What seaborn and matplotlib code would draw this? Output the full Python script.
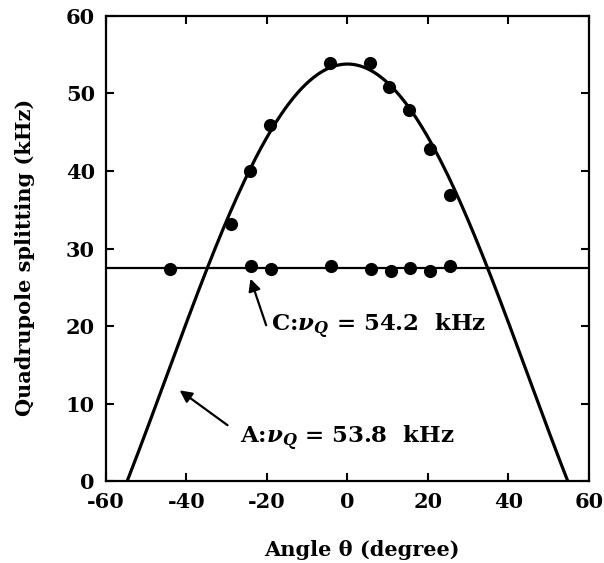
import numpy as np
import pandas as pd
import matplotlib
matplotlib.use("Agg")
import matplotlib.pyplot as plt
import seaborn as sns

# ---- data ----
angle_A = [-29, -24.3, -19.3, -4.3, 5.5, 10.4, 15.4, 20.4, 25.6]
split_A = [33.1, 40.0, 45.9, 53.9, 53.9, 50.9, 47.9, 42.9, 36.9]
angle_C = [-44.2, -23.9, -19.1, -4.2, 5.9, 10.7, 15.6, 20.5, 25.5]
split_C = [27.3, 27.7, 27.4, 27.7, 27.4, 27.1, 27.5, 27.1, 27.7]
nuQ_A = 53.8          # fitted quadrupole constant for site A (kHz)
level_C = 27.5        # fitted constant splitting for site C (kHz)
x_ticks = [-60, -40, -20, 0, 20, 40, 60]
y_ticks = [0, 10, 20, 30, 40, 50, 60]

# fitted curve for site A: nuQ * (3cos^2(theta) - 1) / 2
theta = np.linspace(-60, 60, 481)
fit_A = nuQ_A * (3 * np.cos(np.radians(theta)) ** 2 - 1) / 2
df_fit = pd.DataFrame({"theta": theta, "split": fit_A})
df_A = pd.DataFrame({"theta": angle_A, "split": split_A})
df_C = pd.DataFrame({"theta": angle_C, "split": split_C})

sns.set_theme(style="ticks")
plt.rcParams["font.family"] = ["DejaVu Serif"]
plt.rcParams["font.weight"] = "bold"
plt.rcParams["mathtext.fontset"] = "dejavuserif"
plt.rcParams["text.color"] = "black"
plt.rcParams["axes.labelcolor"] = "black"

fig = plt.figure(figsize=(6.04, 5.63), dpi=100)
ax = fig.add_axes([0.1755, 0.1456, 0.7995, 0.826])

sns.lineplot(data=df_fit, x="theta", y="split", ax=ax, color="black",
             linewidth=2.3, zorder=2)
ax.axhline(level_C, color="black", linewidth=1.6, zorder=2)
sns.scatterplot(data=df_A, x="theta", y="split", ax=ax, color="black",
                s=90, edgecolor="black", linewidth=0, zorder=3)
sns.scatterplot(data=df_C, x="theta", y="split", ax=ax, color="black",
                s=90, edgecolor="black", linewidth=0, zorder=3)

ax.set_xlim(-60, 60)
ax.set_ylim(0, 60)
ax.set_xticks(x_ticks)
ax.set_yticks(y_ticks)
ax.set_xticklabels([str(t) for t in x_ticks], fontsize=15, fontweight="bold")
ax.set_yticklabels([str(t) for t in y_ticks], fontsize=15, fontweight="bold")
ax.tick_params(direction="in", length=6, width=1.5, top=True, right=True,
               pad=8, colors="black")
for sp in ax.spines.values():
    sp.set_linewidth(1.6)
    sp.set_color("black")
    sp.set_visible(True)

ax.set_xlabel("Angle θ (degree)", fontsize=15, fontweight="bold", labelpad=20)
ax.set_ylabel("Quadrupole splitting (kHz)", fontsize=15, fontweight="bold",
              labelpad=22)
ax.xaxis.label.set_x(0.53)
ax.yaxis.label.set_y(0.482)

arrow = dict(arrowstyle="-|>", color="black", lw=1.6, mutation_scale=18,
             shrinkA=0, shrinkB=0)
ax.annotate("", xy=(-24.1, 26.1), xytext=(-20.2, 20.1), arrowprops=arrow)
ax.annotate("", xy=(-41.7, 11.7), xytext=(-29.8, 7.2), arrowprops=arrow)
ax.text(-18.9, 20.0, r"C:$\nu_Q$ = 54.2  kHz", fontsize=16.5,
        fontweight="bold", va="center", ha="left", color="black")
ax.text(-26.8, 5.5, r"A:$\nu_Q$ = 53.8  kHz", fontsize=16.5,
        fontweight="bold", va="center", ha="left", color="black")

fig.savefig("out.png", dpi=100)
